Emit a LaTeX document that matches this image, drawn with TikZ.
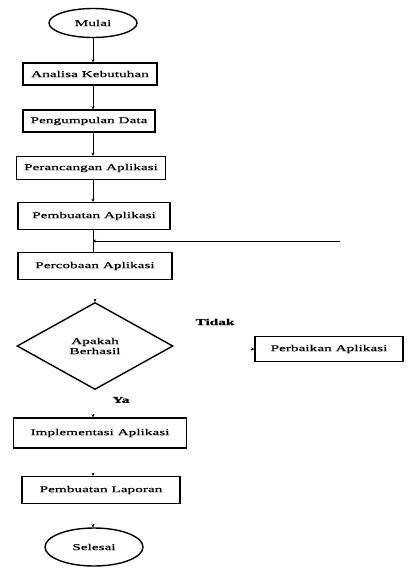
\documentclass[tikz,border=0pt]{standalone}
\usepackage{fontspec}
\setmainfont{Liberation Serif}[FakeStretch=1.7,FakeBold=0.6]
\usetikzlibrary{shapes.geometric,arrows.meta,calc}
\tikzset{
  proses/.style={draw=black, line width=1.4pt, rectangle, inner sep=0pt,
        font=\fontsize{9}{10}\selectfont},
  terminal/.style={draw=black, line width=1.4pt, ellipse, inner sep=0pt,
        font=\fontsize{9}{10}\selectfont},
  keputusan/.style={draw=black, line width=1.4pt, diamond, inner sep=0pt,
        align=center, font=\fontsize{9}{10}\selectfont},
  label teks/.style={font=\fontsize{9}{10}\selectfont\bfseries},
  alur/.style={draw=black, line width=1pt, -{Stealth[length=3pt,width=3pt]}}
}

\begin{document}
\begin{tikzpicture}[x=1pt,y=-1pt]
\useasboundingbox (0,0) rectangle (409,568);
% alur utama
\node[terminal, minimum width=88, minimum height=29] (mulai) at (93,23) {Mulai};
\node[proses, minimum width=134, minimum height=22] (analisa) at (90,74) {Analisa Kebutuhan};
\node[proses, minimum width=132, minimum height=22] (pengumpulan) at (89,121) {Pengumpulan Data};
\node[proses, minimum width=149, minimum height=23] (perancangan) at (91,168) {Perancangan Aplikasi};
\node[proses, minimum width=152, minimum height=27] (pembuatan) at (94,216) {Pembuatan Aplikasi};
\node[proses, minimum width=154, minimum height=27] (percobaan) at (95,266) {Percobaan Aplikasi};
\node[keputusan, minimum width=156, minimum height=87] (berhasil) at (95,346) {Apakah\\Berhasil};
\node[label teks] (tidak) at (215,322) {Tidak};
\node[proses, minimum width=148, minimum height=25] (perbaikan) at (329,349) {Perbaikan Aplikasi};
\node[label teks] (ya) at (121,400) {Ya};
\node[proses, minimum width=173, minimum height=30] (implementasi) at (100,433) {Implementasi Aplikasi};
\node[proses, minimum width=158, minimum height=27] (laporan) at (101,490) {Pembuatan Laporan};
\node[terminal, minimum width=98, minimum height=38] (selesai) at (94,547) {Selesai};

% garis penghubung
\draw[alur] (mulai.south) -- (mulai.south |- analisa.north);
\draw[alur] (mulai.south |- analisa.south) -- (mulai.south |- pengumpulan.north);
\draw[alur] (mulai.south |- pengumpulan.south) -- (mulai.south |- perancangan.north);
\draw[alur] (mulai.south |- perancangan.south) -- (mulai.south |- pembuatan.north);
\draw[line width=1pt] (mulai.south |- pembuatan.south) -- (mulai.south |- percobaan.north);
\coordinate (balik) at (340,241);
\draw[alur] (balik) -- (mulai.south |- balik);

% ujung panah kecil
\coordinate (s1) at ($(berhasil.north)+(0,-3)$);
\coordinate (s2) at ($(perbaikan.west)+(-3,0)$);
\coordinate (s3) at ($(implementasi.north)+(-7,-3)$);
\coordinate (s4) at ($(laporan.north)+(-8,-3)$);
\coordinate (s5) at ($(selesai.north)+(-1,-3)$);
\draw[alur] (s1) -- (berhasil.north);
\draw[alur] (s2) -- (perbaikan.west);
\draw[alur] (s3) -- ++(0,3);
\draw[alur] (s4) -- ++(0,3);
\draw[alur] (s5) -- ++(0,3);
\end{tikzpicture}
\end{document}
